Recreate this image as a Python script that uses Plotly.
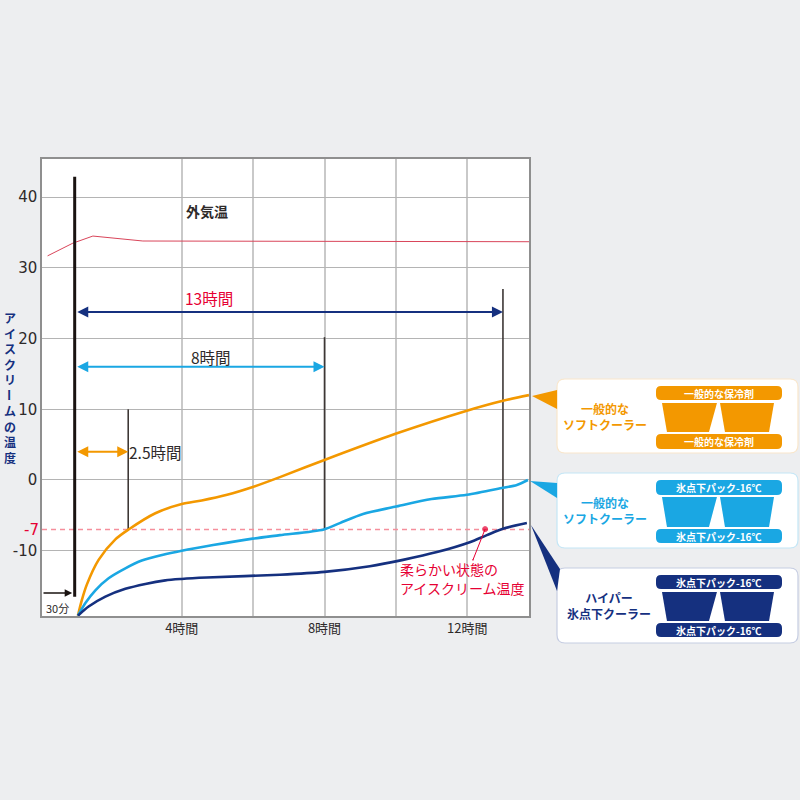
import plotly.graph_objects as go

JP = "Noto Sans CJK JP"
LATIN = "DejaVu Sans"

ORANGE = "#f39800"
SKY = "#1aa7e3"
NAVY = "#15307f"
RED = "#e60033"
DARK = "#2e2a2a"

# curve data, hours since start / temperature in C
soft_pack_hours = [1.09, 1.20, 1.34, 1.67, 2.14, 2.51, 3.26, 4.0, 4.56, 5.27, 5.99, 6.75, 7.98, 9.97, 11.99, 13.0, 13.73]
soft_pack_temp = [-19.2, -17.0, -14.8, -11.3, -8.4, -7.0, -4.7, -3.4, -2.9, -2.1, -1.0, 0.4, 2.8, 6.5, 9.8, 11.2, 12.0]

soft_frozen_hours = [1.09, 1.30, 1.58, 1.95, 2.42, 2.88, 3.45, 4.0, 4.88, 5.99, 6.75, 7.98, 8.43, 9.08, 9.97, 11.0, 11.99, 13.0, 13.39, 13.7]
soft_frozen_temp = [-19.2, -17.4, -15.6, -13.9, -12.5, -11.4, -10.6, -10.0, -9.2, -8.3, -7.8, -7.0, -6.1, -4.8, -3.8, -2.7, -2.1, -1.1, -0.7, 0.0]

hyper_hours = [1.09, 1.39, 1.86, 2.42, 2.98, 3.54, 4.0, 4.7, 6.75, 8.0, 9.27, 10.2, 11.15, 12.07, 12.55, 13.0, 13.67]
hyper_temp = [-19.2, -17.9, -16.5, -15.4, -14.7, -14.2, -14.0, -13.8, -13.4, -13.0, -12.2, -11.3, -10.2, -8.8, -7.8, -6.9, -6.1]

outside_hours = [0.24, 0.95, 1.51, 2.91, 13.73]
outside_temp = [31.7, 33.5, 34.5, 33.8, 33.7]

# time markers: hour, top of the line, bottom of the line
marker_hours = [2.5, 8.0, 13.0]
marker_tops = [10.0, 20.2, 27.0]
marker_bottoms = [-7.0, -7.0, -6.9]

y_ticks = [-10, 0, 10, 20, 30, 40]
y_tick_labels = ["-10", "0", "10", "20", "30", "40"]
x_ticks = [4, 6, 8, 10, 12]
x_tick_labels = ["4時間", "", "8時間", "", "12時間"]

panel_names = ["<b>一般的な<br>ソフトクーラー</b>", "<b>一般的な<br>ソフトクーラー</b>", "<b>ハイパー<br>氷点下クーラー</b>"]
panel_packs = ["<b>一般的な保冷剤</b>", "<b>氷点下パック-16℃</b>", "<b>氷点下パック-16℃</b>"]
panel_colors = [ORANGE, SKY, NAVY]
panel_borders = ["#f9e6cb", "#c4e6f6", "#c6cde2"]


def px(x):
    return x / 800


def py(y):
    return 1 - y / 800


def text(x, y, s, size=13, color=DARK, family=JP, anchor="center", angle=0):
    fig.add_annotation(x=px(x), y=py(y), xref="paper", yref="paper", text=s, showarrow=False,
                       xanchor=anchor, yanchor="middle", textangle=angle,
                       font=dict(family=family, size=size, color=color))


def shape_path(points, fill, line="rgba(0,0,0,0)", width=0):
    d = "M " + " L ".join(f"{px(x):.4f},{py(y):.4f}" for x, y in points) + " Z"
    fig.add_shape(type="path", path=d, xref="paper", yref="paper", fillcolor=fill,
                  line=dict(color=line, width=width), layer="above")


def rounded(x0, y0, x1, y1, r, fill, line="rgba(0,0,0,0)", width=0):
    a, b, c, d = px(x0), py(y0), px(x1), py(y1)
    rx, ry = r / 800, r / 800
    p = (f"M {a + rx},{b} L {c - rx},{b} Q {c},{b} {c},{b - ry} L {c},{d + ry} Q {c},{d} {c - rx},{d} "
         f"L {a + rx},{d} Q {a},{d} {a},{d + ry} L {a},{b - ry} Q {a},{b} {a + rx},{b} Z")
    fig.add_shape(type="path", path=p, xref="paper", yref="paper", fillcolor=fill,
                  line=dict(color=line, width=width), layer="above")


def span_arrow(x0, x1, y, color, both=True):
    fig.add_annotation(x=x1, y=y, ax=x0, ay=y, xref="x", yref="y", axref="x", ayref="y", text="",
                       showarrow=True, arrowside="end+start" if both else "end", arrowhead=2,
                       arrowsize=1.1 if both else 1, arrowwidth=2 if both else 1.5, arrowcolor=color,
                       startarrowhead=2, startarrowsize=1.1, standoff=0, startstandoff=0)


fig = go.Figure()

fig.add_trace(go.Scatter(x=[0.084, 13.73], y=[-7, -7], mode="lines",
                         line=dict(color="#f58f9c", width=1.5, dash="5px,4px")))
fig.add_trace(go.Scatter(x=outside_hours, y=outside_temp, mode="lines", line=dict(color="#d9455a", width=1)))

for h, top, bottom in zip(marker_hours, marker_tops, marker_bottoms):
    fig.add_trace(go.Scatter(x=[h, h], y=[bottom, top], mode="lines", line=dict(color="#3d3735", width=1.6)))
fig.add_trace(go.Scatter(x=[1.0, 1.0], y=[-16.5, 42.9], mode="lines", line=dict(color="#1a1311", width=3)))

fig.add_trace(go.Scatter(x=soft_pack_hours, y=soft_pack_temp, mode="lines",
                         line=dict(color=ORANGE, width=2.6, shape="spline", smoothing=0.8)))
fig.add_trace(go.Scatter(x=soft_frozen_hours, y=soft_frozen_temp, mode="lines",
                         line=dict(color=SKY, width=2.6, shape="spline", smoothing=0.8)))
fig.add_trace(go.Scatter(x=hyper_hours, y=hyper_temp, mode="lines",
                         line=dict(color=NAVY, width=2.6, shape="spline", smoothing=0.8)))

# red dot and leader for the soft ice cream note
fig.add_trace(go.Scatter(x=[12.5, 12.16], y=[-6.95, -11.3], mode="lines+markers",
                         line=dict(color=RED, width=1), marker=dict(color=[RED, "rgba(0,0,0,0)"], size=[5, 1])))

fig.update_layout(
    width=800, height=800, showlegend=False,
    margin=dict(l=0, r=0, t=0, b=0),
    paper_bgcolor="#edeef0", plot_bgcolor="white",
    xaxis=dict(domain=[px(42), px(529)], range=[0.084, 13.73], tickmode="array", tickvals=x_ticks,
               ticktext=x_tick_labels, ticks="", showgrid=True, gridcolor="#c9c9c9", gridwidth=1.6,
               zeroline=False, showline=True, linecolor="#8f8f8f", linewidth=1.5, mirror=True,
               tickfont=dict(family=JP, size=13, color=DARK)),
    yaxis=dict(domain=[py(616), py(159)], range=[-19.24, 45.4], tickmode="array", tickvals=y_ticks,
               ticktext=y_tick_labels, ticks="", showgrid=True, gridcolor="#b4b4b4", gridwidth=1,
               zeroline=False, showline=True, linecolor="#8f8f8f", linewidth=1.5, mirror=True,
               tickfont=dict(family=LATIN, size=15, color=DARK)),
)

span_arrow(1.03, 13.0, 23.75, NAVY)
span_arrow(1.03, 8.0, 16.0, SKY)
span_arrow(1.03, 2.5, 4.0, ORANGE)
span_arrow(0.084, 0.93, -16.0, "#1a1311", both=False)

text(207, 211, "<b>外気温</b>", 14)
text(209, 298, "13時間", 15.5, RED)
text(211, 357, "8時間", 15.5)
text(127, 452, "2.5時間", 15.5, anchor="left")
text(58, 608, "30分", 11)
text(31, 530, "-7", 15, RED, LATIN)
text(398, 569, "柔らかい状態の", 14, RED, anchor="left")
text(398, 588, "アイスクリーム温度", 14, RED, anchor="left")

# vertical axis title, the long vowel mark has to be turned by hand
text(10, 348, "<b>ア<br>イ<br>ス<br>ク<br>リ</b>", 12, NAVY)
text(10, 395, "<b>ー</b>", 12, NAVY, angle=90)
text(10, 434, "<b>ム<br>の<br>温<br>度</b>", 12, NAVY)

# cooler panels on the right: pointer, card, two packs and two cups
pointers = [
    [(532, 396), (557, 390), (557, 409)],
    [(530, 481), (557, 483), (557, 498)],
    [(531, 525), (560, 569), (557, 591)],
]
panel_tops = [379, 473, 568]
panel_bottoms = [453, 548, 643]
name_centers = [605, 605, 609]
pack_rows = [(386, 400, 434, 449), (480, 495, 529, 543), (575, 589, 623, 637)]
cup_rows = [(403, 432), (497, 527), (592, 621)]

for i in range(3):
    color = panel_colors[i]
    rounded(557, panel_tops[i], 798, panel_bottoms[i], 8, "white", panel_borders[i], 1.2)
    shape_path(pointers[i], color)
    text(name_centers[i], (panel_tops[i] + panel_bottoms[i]) / 2, panel_names[i], 12, color)
    t1, b1, t2, b2 = pack_rows[i]
    for top, bottom in ((t1, b1), (t2, b2)):
        rounded(656, top, 782, bottom, 5, color)
        text(719, (top + bottom) / 2, panel_packs[i], 10, "white")
    ct, cb = cup_rows[i]
    shape_path([(662, ct), (717, ct), (709, cb), (667, cb)], color)
    shape_path([(720, ct), (774, ct), (769, cb), (725, cb)], color)

# the page has a default body margin, drop it so the chart fills the window
fig.write_html("out.html", config={"displayModeBar": False},
               post_script="document.body.style.margin='0';document.body.style.background='#edeef0';")
